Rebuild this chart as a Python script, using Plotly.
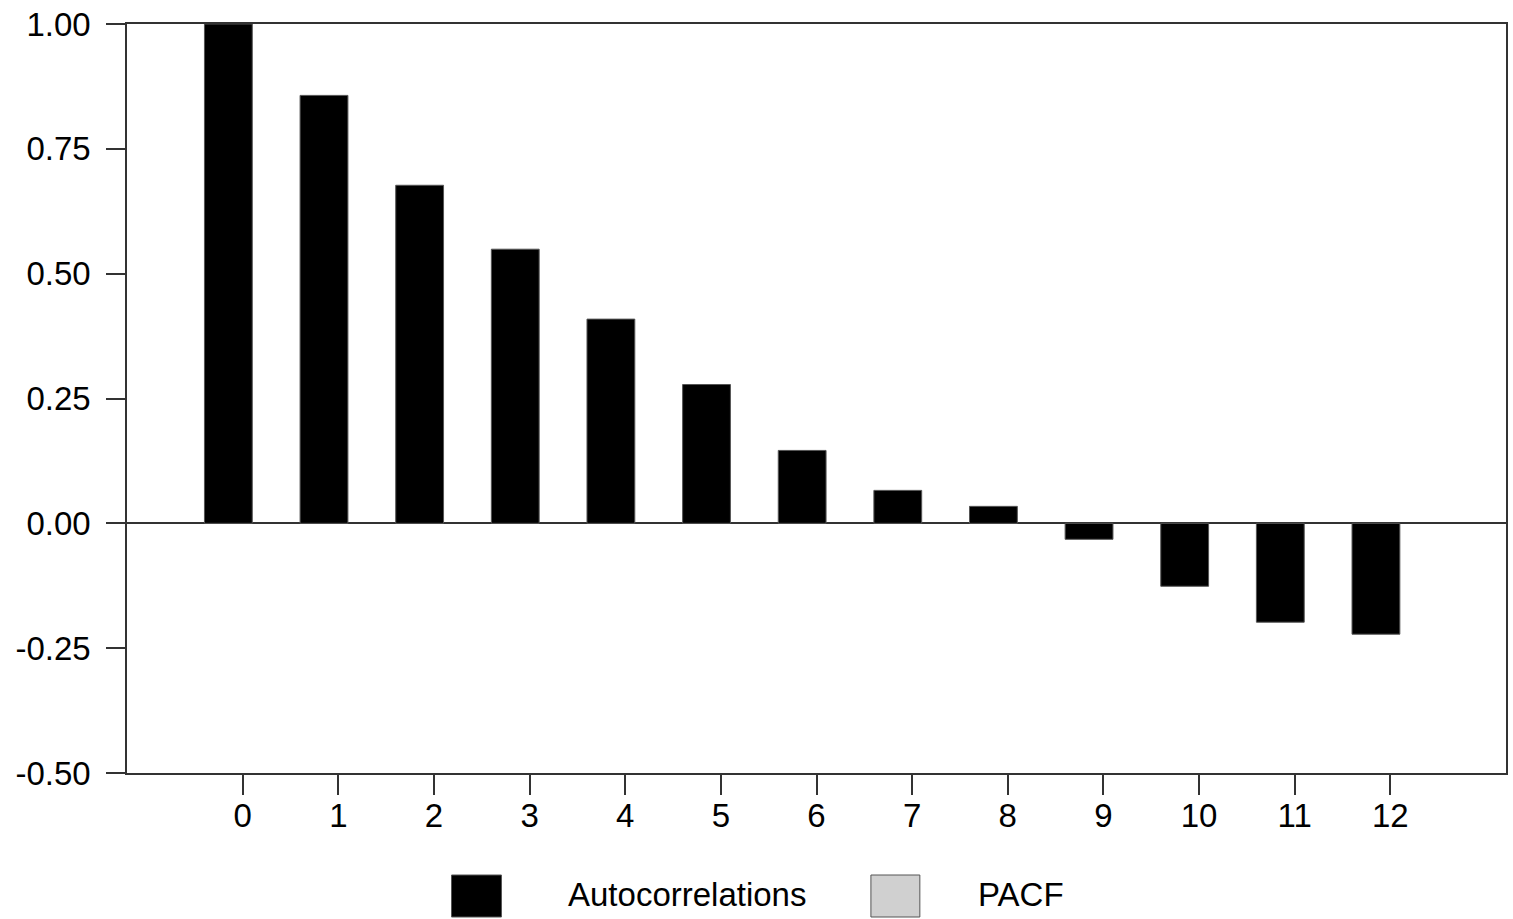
import plotly.graph_objects as go

# Data
lags = list(range(13))
acf_values = [1.0, 0.857, 0.677, 0.549, 0.409, 0.278, 0.146, 0.066, 0.034, -0.032, -0.126, -0.198, -0.222]
y_ticks = [-0.5, -0.25, 0.0, 0.25, 0.5, 0.75, 1.0]
y_tick_labels = ["-0.50", "-0.25", "0.00", "0.25", "0.50", "0.75", "1.00"]
legend_labels = ["Autocorrelations", "PACF"]

W, H = 1513, 919
L, R, T, B = 127, 5, 24, 146
plot_w = W - L - R
plot_h = H - T - B

def px_x(px):
    return (px - L) / plot_w

def px_y(py):
    return (H - B - py) / plot_h

FONT = "Liberation Sans, Arial, sans-serif"
AX = "#333333"

fig = go.Figure()
fig.add_trace(go.Bar(
    x=lags, y=acf_values, width=0.5, offset=-0.4,
    marker=dict(color="black", line=dict(color="#555555", width=1)),
    name=legend_labels[0], showlegend=False,
))

fig.update_layout(
    width=W, height=H,
    margin=dict(l=L, r=R, t=T, b=B, pad=0),
    paper_bgcolor="white", plot_bgcolor="white",
    font=dict(family=FONT, size=33, color="black"),
    showlegend=False,
    xaxis=dict(
        range=[-1.21, 13.21], tickvals=lags, ticktext=[str(v) for v in lags],
        showgrid=False, zeroline=False, showline=True, linecolor=AX, linewidth=1.5,
        mirror=True, ticks="outside", ticklen=20, tickwidth=1.5, tickcolor=AX,
        ticklabelstandoff=-7,
    ),
    yaxis=dict(
        range=[-0.5, 1.0], tickvals=y_ticks, ticktext=y_tick_labels,
        showgrid=False, zeroline=True, zerolinecolor=AX, zerolinewidth=1.5,
        showline=True, linecolor=AX, linewidth=1.5, mirror=True,
        ticks="outside", ticklen=19, tickwidth=1.5, tickcolor=AX,
        ticklabelstandoff=9,
    ),
)

# Legend drawn below plot
fig.add_shape(type="rect", xref="paper", yref="paper",
              x0=px_x(452), x1=px_x(502), y0=px_y(917), y1=px_y(875),
              fillcolor="black", line=dict(color="#555555", width=1))
fig.add_shape(type="rect", xref="paper", yref="paper",
              x0=px_x(872), x1=px_x(921), y0=px_y(917), y1=px_y(875),
              fillcolor="#d0d0d0", line=dict(color="#555555", width=1))
fig.add_annotation(xref="paper", yref="paper", x=px_x(688), y=px_y(894),
                   xanchor="center", yanchor="middle", showarrow=False,
                   text=legend_labels[0], font=dict(family=FONT, size=33, color="black"))
fig.add_annotation(xref="paper", yref="paper", x=px_x(1022), y=px_y(894),
                   xanchor="center", yanchor="middle", showarrow=False,
                   text=legend_labels[1], font=dict(family=FONT, size=33, color="black"))

fig.write_html("out.html", config={"displayModeBar": False},
               post_script="document.body.style.margin='0';document.body.style.overflow='hidden';")
